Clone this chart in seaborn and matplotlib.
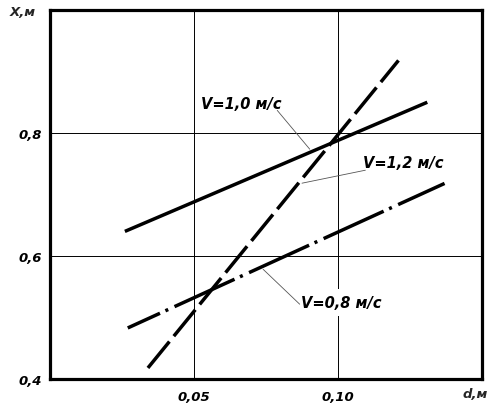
import matplotlib
matplotlib.use("Agg")
import matplotlib.pyplot as plt
import seaborn as sns
import pandas as pd

# ---- data ----
d_v10 = [0.026, 0.131]
x_v10 = [0.640, 0.850]
d_v12 = [0.034, 0.121]
x_v12 = [0.418, 0.918]
d_v08 = [0.027, 0.137]
x_v08 = [0.483, 0.718]
series_labels = ["V=1,0 м/с", "V=1,2 м/с", "V=0,8 м/с"]
x_ticks = [0.05, 0.10]
x_tick_labels = ["0,05", "0,10"]
y_ticks = [0.4, 0.6, 0.8]
y_tick_labels = ["0,4", "0,6", "0,8"]
x_label = "d,м"
y_label = "X,м"

sns.set_style("white")
plt.rcParams["font.family"] = ["DejaVu Sans"]
plt.rcParams["lines.scale_dashes"] = False

W, H = 491, 406
fig = plt.figure(figsize=(W / 100, H / 100), dpi=100)
ax = fig.add_axes([50 / W, 1 - 380 / H, 432 / W, 369 / H])

df = pd.concat([
    pd.DataFrame({"d": d_v10, "X": x_v10, "V": series_labels[0]}),
    pd.DataFrame({"d": d_v12, "X": x_v12, "V": series_labels[1]}),
    pd.DataFrame({"d": d_v08, "X": x_v08, "V": series_labels[2]}),
])

dash_specs = {
    series_labels[0]: None,
    series_labels[1]: (0, [24.5, 5.0]),
    series_labels[2]: (22, [47.5, 4.3, 2.2, 5.0]),
}
for lab in series_labels:
    sub = df[df["V"] == lab]
    sns.lineplot(data=sub, x="d", y="X", ax=ax, color="black", linewidth=2.5,
                 zorder=3, legend=False)
    ln = ax.lines[-1]
    spec = dash_specs[lab]
    if spec is not None:
        ln.set_linestyle(spec)
    ln.set_dash_capstyle("butt")
    ln.set_solid_capstyle("butt")

ax.set_xlim(0, 0.15)
ax.set_ylim(0.4, 1.0)
ax.set_xticks(x_ticks)
ax.set_xticklabels(x_tick_labels)
ax.set_yticks(y_ticks)
ax.set_yticklabels(y_tick_labels)
ax.set_xlabel("")
ax.set_ylabel("")
ax.grid(True, color="black", linewidth=0.7, zorder=0)
ax.set_axisbelow(True)
for s in ax.spines.values():
    s.set_color("black")
    s.set_linewidth(2.3)
    s.set_visible(True)
tick_font = dict(fontsize=9.5, fontweight="bold", fontstyle="italic")
ax.tick_params(axis="both", length=0, colors="black")
ax.tick_params(axis="y", pad=6)
ax.tick_params(axis="x", pad=8)
for t in ax.get_xticklabels() + ax.get_yticklabels():
    t.set_fontsize(9.5)
    t.set_fontweight("bold")
    t.set_fontstyle("italic")

fig.text(10 / W, 1 - 13 / H, y_label, ha="left", va="center", **tick_font)
fig.text(463 / W, 1 - 395 / H, x_label, ha="left", va="center", **tick_font)

lab_font = dict(fontsize=10.5, fontweight="bold", fontstyle="italic",
                ha="left", va="center", color="black")
# label texts
ax.text(0.0523, 0.848, series_labels[0], zorder=4, **lab_font)
ax.text(0.1088, 0.7525, series_labels[1], zorder=4, **lab_font)
ax.text(0.0871, 0.5243, series_labels[2], zorder=4,
        bbox=dict(boxstyle="square,pad=0.4", fc="white", ec="none"), **lab_font)

# leader lines
leaders = [
    ((0.0789, 0.8368), (0.0902, 0.7736)),
    ((0.1095, 0.7395), (0.0875, 0.7184)),
    ((0.0867, 0.5216), (0.0740, 0.5784)),
]
for (a, b) in leaders:
    ax.annotate("", xy=b, xytext=a, zorder=5,
                arrowprops=dict(arrowstyle="-", color="#555555", lw=0.6,
                                shrinkA=0, shrinkB=0))

fig.savefig("out.png", dpi=100)
